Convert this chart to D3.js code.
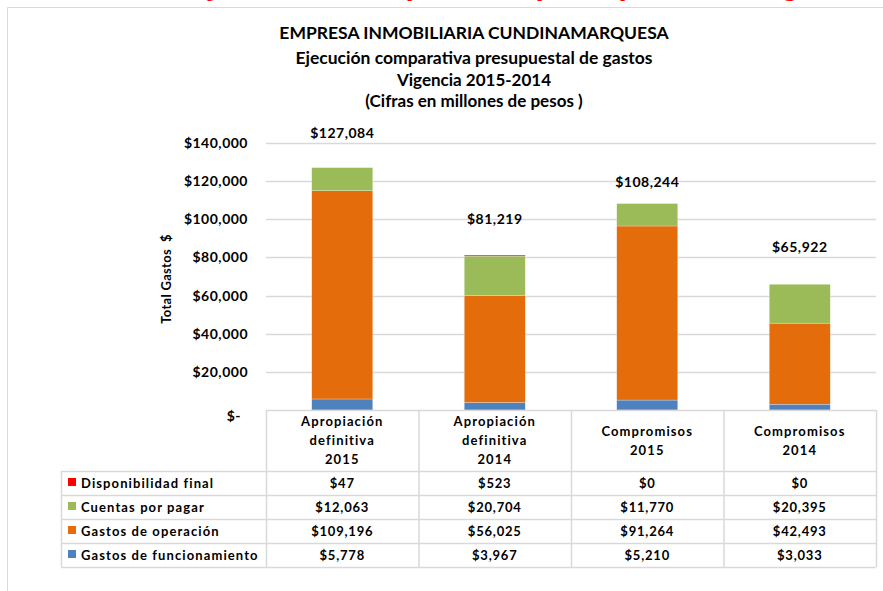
<!DOCTYPE html>
<html>
<head>
<meta charset="utf-8">
<script src="https://cdn.jsdelivr.net/npm/d3@7"></script>
<style>
  body { margin: 0; background: #fff; }
  svg { display: block; }
  text { font-family: Lato, "Open Sans", sans-serif; font-weight: bold; fill: #000; }
</style>
</head>
<body>
<div id="chart"></div>
<script>
'use strict'

// data
const categories = ['Apropiación definitiva 2015', 'Apropiación definitiva 2014', 'Compromisos 2015', 'Compromisos 2014'];
const categoryLines = [['Apropiación', 'definitiva', '2015'], ['Apropiación', 'definitiva', '2014'], ['Compromisos', '2015'], ['Compromisos', '2014']];
const gastosFuncionamiento = [5778, 3967, 5210, 3033];
const gastosOperacion = [109196, 56025, 91264, 42493];
const cuentasPorPagar = [12063, 20704, 11770, 20395];
const disponibilidadFinal = [47, 523, 0, 0];
const totals = [127084, 81219, 108244, 65922];
const seriesNames = ['Gastos de funcionamiento', 'Gastos de operación', 'Cuentas por pagar', 'Disponibilidad final'];
const yTicks = [0, 20000, 40000, 60000, 80000, 100000, 120000, 140000];

const colors = ['#4F81BD', '#E46C0A', '#9BBB59', '#FF0000'];
// total labels were placed by hand in the original, so their lift differs
const labelLift = [30, 31, 17, 32];

const width = 883, height = 591;
const plot = {left: 266, right: 876, top: 143, bottom: 410};
const rowH = 24;
const tableLeft = 61;

const svg = d3.select('#chart').append('svg')
  .attr('width', width)
  .attr('height', height);

// red heading cut off by the screenshot, only the descenders show.
// fit it so the "j" and the "g" land where they are in the screenshot
const redText = 'Ejecución comparativa presupuestal de gastos';
const red = svg.append('text')
  .attr('x', 0).attr('y', -10)
  .style('font-size', '28px')
  .style('fill', '#FF0000')
  .text(redText);
function charMid(node, i) {
  const e = node.getExtentOfChar(i);
  return e.x + e.width / 2;
}
let jAt = charMid(red.node(), 1), gAt = charMid(red.node(), 38);
const redSize = 28 * (790 - 213) / (gAt - jAt);
red.style('font-size', redSize + 'px');
jAt = charMid(red.node(), 1);
red.attr('x', 213 - jAt).attr('y', 2 - redSize * 0.2);

// outer frame
svg.append('path')
  .attr('d', 'M7.5,' + height + 'V7.5H' + width)
  .attr('fill', 'none')
  .attr('stroke', '#d9d9d9');

// titles
const titles = [
  {t: 'EMPRESA INMOBILIARIA CUNDINAMARQUESA', y: 39, s: 17.5},
  {t: 'Ejecución comparativa presupuestal de gastos', y: 64, s: 17.5},
  {t: 'Vigencia 2015-2014', y: 86, s: 17},
  {t: '(Cifras en millones de pesos )', y: 107, s: 17}
];
svg.selectAll('.title').data(titles).enter()
  .append('text')
    .attr('class', 'title')
    .attr('x', 474)
    .attr('y', d => d.y)
    .attr('text-anchor', 'middle')
    .style('font-size', d => d.s + 'px')
    .style('white-space', 'pre')
    .text(d => d.t);

const y = d3.scaleLinear().domain([0, 140000]).range([plot.bottom, plot.top]);
const x = d3.scaleBand().domain(categories).range([plot.left, plot.right])
  .paddingInner(0.6).paddingOuter(0.3);
const step = x.step();

// gridlines
svg.append('g').selectAll('line').data(yTicks.slice(1)).enter()
  .append('line')
    .attr('x1', plot.left).attr('x2', plot.right)
    .attr('y1', d => Math.round(y(d)) + 0.5)
    .attr('y2', d => Math.round(y(d)) + 0.5)
    .attr('stroke', '#d9d9d9')
    .attr('stroke-width', 1.5);

// y axis labels
const fmt = d3.format(',');
const yAxis = svg.append('g')
  .attr('transform', 'translate(248,0)')
  .call(d3.axisLeft(y).tickValues(yTicks).tickSize(0).tickPadding(0)
    .tickFormat(d => d === 0 ? '$-' : '$' + fmt(d)));
yAxis.select('.domain').remove();
yAxis.selectAll('text')
  .style('font-size', '14px')
  .style('letter-spacing', '0.5px')
  .style('font-family', 'Lato, sans-serif')
  .attr('fill', '#000');
yAxis.selectAll('.tick').filter(d => d === 0).select('text').attr('x', -7).attr('dy', '0.75em');

svg.append('text')
  .attr('transform', 'translate(171,279) rotate(-90)')
  .attr('text-anchor', 'middle')
  .style('font-size', '13px')
  .style('letter-spacing', '0.3px')
  .style('white-space', 'pre')
  .text('Total Gastos  $');

// stacked bars
const rows = categories.map((c, i) => ({
  cat: c,
  [seriesNames[0]]: gastosFuncionamiento[i],
  [seriesNames[1]]: gastosOperacion[i],
  [seriesNames[2]]: cuentasPorPagar[i],
  [seriesNames[3]]: disponibilidadFinal[i]
}));
const stacked = d3.stack().keys(seriesNames)(rows);

svg.append('g').selectAll('g').data(stacked).enter()
  .append('g')
    .attr('fill', (d, i) => colors[i])
  .selectAll('rect').data(d => d).enter()
  .append('rect')
    .attr('x', d => x(d.data.cat))
    .attr('width', x.bandwidth())
    .attr('y', d => y(d[1]))
    .attr('height', d => y(d[0]) - y(d[1]))
    .attr('stroke', d => (d[1] - d[0]) > 0 ? '#fff' : 'none')
    .attr('stroke-opacity', 0.5)
    .attr('stroke-width', 0.5);

// total labels
svg.append('g').selectAll('text').data(totals).enter()
  .append('text')
    .attr('x', (d, i) => x(categories[i]) + x.bandwidth() / 2)
    .attr('y', (d, i) => y(d) - labelLift[i])
    .attr('text-anchor', 'middle')
    .style('font-size', '14px')
    .style('letter-spacing', '0.5px')
    .text(d => '$' + fmt(d));

// data table
const table = svg.append('g');
const lineColor = '#d9d9d9';
const tableTop = plot.bottom;
const headH = 61;
const bodyTop = tableTop + headH;
const tableRows = [
  {name: seriesNames[3], vals: disponibilidadFinal, color: colors[3]},
  {name: seriesNames[2], vals: cuentasPorPagar, color: colors[2]},
  {name: seriesNames[1], vals: gastosOperacion, color: colors[1]},
  {name: seriesNames[0], vals: gastosFuncionamiento, color: colors[0]}
];
const bodyBottom = bodyTop + rowH * tableRows.length;

// horizontal lines
table.append('line')
  .attr('x1', plot.left).attr('x2', plot.right)
  .attr('y1', tableTop + 0.5).attr('y2', tableTop + 0.5)
  .attr('stroke', lineColor).attr('stroke-width', 1.5);
d3.range(tableRows.length + 1).forEach(i => {
  table.append('line')
    .attr('x1', tableLeft).attr('x2', plot.right)
    .attr('y1', bodyTop + i * rowH + 0.5).attr('y2', bodyTop + i * rowH + 0.5)
    .attr('stroke', lineColor).attr('stroke-width', 1.5);
});
// vertical lines
d3.range(categories.length + 1).forEach(i => {
  table.append('line')
    .attr('x1', plot.left + i * step + 0.5).attr('x2', plot.left + i * step + 0.5)
    .attr('y1', tableTop).attr('y2', bodyBottom)
    .attr('stroke', lineColor).attr('stroke-width', 1.5);
});
table.append('line')
  .attr('x1', tableLeft + 0.5).attr('x2', tableLeft + 0.5)
  .attr('y1', bodyTop).attr('y2', bodyBottom)
  .attr('stroke', lineColor).attr('stroke-width', 1.5);

// header
categoryLines.forEach((lines, i) => {
  const cx = x(categories[i]) + x.bandwidth() / 2;
  const first = tableTop + headH / 2 - (lines.length - 1) * 19 / 2 + 4.5;
  table.append('text')
    .attr('text-anchor', 'middle')
    .style('font-size', '13px')
    .style('letter-spacing', '1.1px')
    .selectAll('tspan').data(lines).enter()
    .append('tspan')
      .attr('x', cx)
      .attr('y', (d, j) => first + j * 19)
      .text(d => d);
});

// body rows
tableRows.forEach((r, ri) => {
  const cy = bodyTop + ri * rowH + rowH / 2;
  table.append('rect')
    .attr('x', 68).attr('y', cy - 5)
    .attr('width', 8).attr('height', 8)
    .attr('fill', r.color);
  table.append('text')
    .attr('x', 81).attr('y', cy + 4.5)
    .style('font-size', '13px')
    .style('letter-spacing', '1.1px')
    .text(r.name);
  table.selectAll(null).data(r.vals).enter()
    .append('text')
      .attr('x', (d, i) => x(categories[i]) + x.bandwidth() / 2)
      .attr('y', cy + 4.5)
      .attr('text-anchor', 'middle')
      .style('font-size', '13px')
      .style('letter-spacing', '0.8px')
      .text(d => '$' + fmt(d));
});
</script>
</body>
</html>
